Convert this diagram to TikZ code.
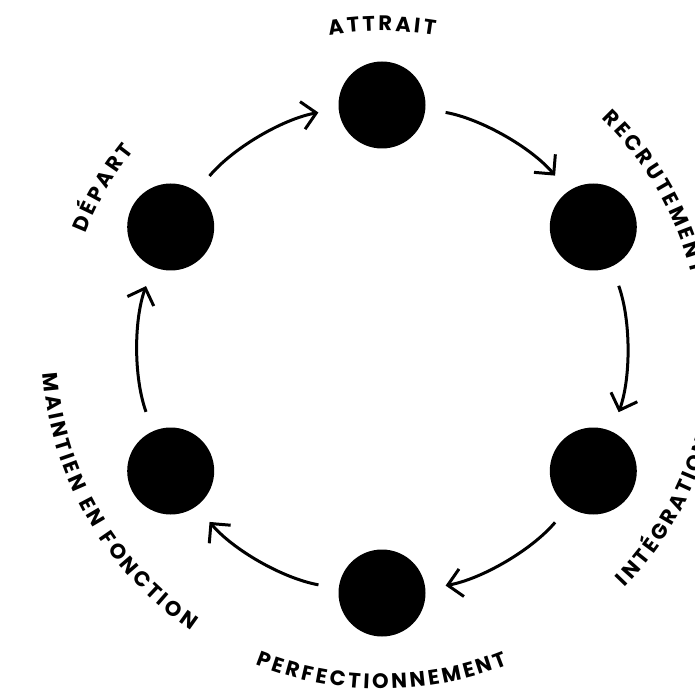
\documentclass[tikz,border=0pt]{standalone}
\usepackage{fontspec}
\usepackage{tikz}
\usetikzlibrary{arrows.meta,decorations.text}
\newfontfamily\lblfont{Poppins}
\newcommand{\lbl}{\lblfont\bfseries\fontsize{21pt}{21pt}\selectfont}

\begin{document}
\begin{tikzpicture}[
    stage/.style={circle, fill=black, minimum size=87pt, inner sep=0pt},
    flow/.style={line width=3pt, -{Straight Barb[length=14pt,width=28pt]}, bend left=19.8, distance=56.8pt, shorten <=20.4pt, shorten >=20.4pt},
    ring label/.style={font=\lbl, decorate, decoration={text effects along path, text={#1}, text align=center,
        text effects/.cd, text along path,
        character widths={font=\lbl, inner xsep=1.5pt},
        characters={font=\lbl, inner xsep=1.5pt}}}
]
    \useasboundingbox (0pt,0pt) rectangle (695pt,694pt);
    \coordinate (c) at (382pt,345pt);

    % Stages
    \node[stage] (attrait) at (382pt,589pt) {};
    \node[stage] (recrutement) at (593.3pt,467pt) {};
    \node[stage] (integration) at (593.3pt,223pt) {};
    \node[stage] (perfectionnement) at (382pt,101pt) {};
    \node[stage] (maintien) at (170.7pt,223pt) {};
    \node[stage] (depart) at (170.7pt,467pt) {};

    % Arrows
    \draw[flow] (depart.54.9) to (attrait.185.1);
    \draw[flow] (attrait.-5.1) to (recrutement.125.1);
    \draw[flow] (recrutement.-65.1) to (integration.65.1);
    \draw[flow] (integration.-125.1) to (perfectionnement.5.1);
    \draw[flow] (perfectionnement.174.9) to (maintien.-54.9);
    \draw[flow] (maintien.114.9) to (depart.-114.9);

    % Labels, upper half (clockwise)
    \path[ring label=ATTRAIT] ([shift={(130:318pt)}]c) arc[start angle=130, end angle=50, radius=318pt];
    \path[ring label=RECRUTEMENT] ([shift={(75:318pt)}]c) arc[start angle=75, end angle=-15, radius=318pt];
    \path[ring label=DÉPART] ([shift={(195:318pt)}]c) arc[start angle=195, end angle=105, radius=318pt];

    % Labels, lower half (counterclockwise)
    \path[ring label=PERFECTIONNEMENT] ([shift={(-140:340pt)}]c) arc[start angle=-140, end angle=-40, radius=340pt];
    \path[ring label=INTÉGRATION] ([shift={(-80:340pt)}]c) arc[start angle=-80, end angle=20, radius=340pt];
    \path[ring label=MAINTIEN EN FONCTION] ([shift={(155:340pt)}]c) arc[start angle=155, end angle=265, radius=340pt];
\end{tikzpicture}
\end{document}
